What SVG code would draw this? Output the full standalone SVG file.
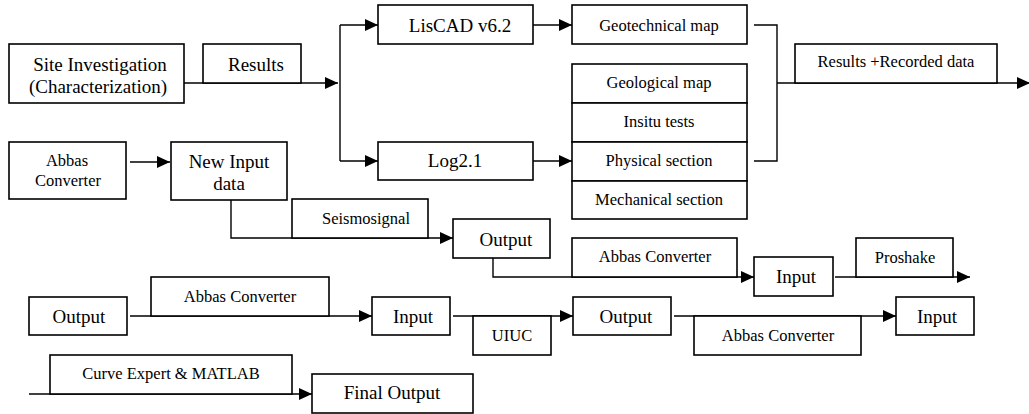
<svg xmlns="http://www.w3.org/2000/svg" width="1029" height="414" viewBox="0 0 1029 414">
<style>
rect{fill:#fff;stroke:#000;stroke-width:1.6}
.c path{fill:none;stroke:#000;stroke-width:1.4}
text{font-family:"Liberation Serif","Times New Roman",serif;fill:#000;text-anchor:middle}
.b{font-size:19px}
.s{font-size:16.5px}
</style>
<defs>
<marker id="ah" markerWidth="14" markerHeight="12" refX="13" refY="6" orient="auto" markerUnits="userSpaceOnUse"><path d="M0,0 L13,6 L0,12 z" fill="#000"/></marker>
</defs>
<g class="c" id="connectors">
<path d="M184,83 H338" marker-end="url(#ah)"/>
<path d="M340,25 V161"/>
<path d="M340,25 H378" marker-end="url(#ah)"/>
<path d="M340,161 H378" marker-end="url(#ah)"/>
<path d="M533,25 H572" marker-end="url(#ah)"/>
<path d="M533,161 H572" marker-end="url(#ah)"/>
<path d="M754,25 H777 V161 H754"/>
<path d="M777,83 H1030" marker-end="url(#ah)"/>
<path d="M130,162 H170" marker-end="url(#ah)"/>
<path d="M231,200 V238 H453" marker-end="url(#ah)"/>
<path d="M493,258 V277 H754" marker-end="url(#ah)"/>
<path d="M835,277 H970" marker-end="url(#ah)"/>
<path d="M130,316 H372" marker-end="url(#ah)"/>
<path d="M453,316 H573" marker-end="url(#ah)"/>
<path d="M674,316 H896" marker-end="url(#ah)"/>
<path d="M29,394 H312" marker-end="url(#ah)"/>
</g>
<g id="site"><rect x="9" y="44" width="175" height="59"/><text class="b" x="100" y="71">Site Investigation</text><text class="b" x="98" y="93">(Characterization)</text></g>
<g id="results"><rect x="203" y="44" width="98" height="39"/><text class="b" x="256" y="71">Results</text></g>
<g id="liscad"><rect x="378" y="5" width="155" height="39"/><text class="b" x="460" y="32">LisCAD v6.2</text></g>
<g id="log21"><rect x="378" y="142" width="155" height="38"/><text class="b" x="455" y="167">Log2.1</text></g>
<g id="geotech"><rect x="572" y="5" width="175" height="39"/><text class="s" x="659" y="31">Geotechnical map</text></g>
<g id="stack">
<rect x="572" y="64" width="175" height="39"/><text class="s" x="659" y="88">Geological map</text>
<rect x="572" y="103" width="175" height="39"/><text class="s" x="659" y="127">Insitu tests</text>
<rect x="572" y="142" width="175" height="39"/><text class="s" x="659" y="166">Physical section</text>
<rect x="572" y="181" width="175" height="38"/><text class="s" x="659" y="205">Mechanical section</text>
</g>
<g id="recorded"><rect x="795" y="44" width="202" height="39"/><text class="s" x="896" y="67">Results +Recorded data</text></g>
<g id="abbas1"><rect x="9" y="142" width="117" height="57"/><text class="s" x="67" y="166">Abbas</text><text class="s" x="68" y="186">Converter</text></g>
<g id="newinput"><rect x="171" y="142" width="116" height="58"/><text class="b" x="229" y="168">New Input</text><text class="b" x="229" y="190">data</text></g>
<g id="seismo"><rect x="292" y="199" width="136" height="39"/><text class="s" x="366" y="224">Seismosignal</text></g>
<g id="output1"><rect x="453" y="219" width="97" height="39"/><text class="b" x="506" y="246">Output</text></g>
<g id="abbas2"><rect x="572" y="238" width="165" height="39"/><text class="s" x="655" y="262">Abbas Converter</text></g>
<g id="input1"><rect x="754" y="257" width="79" height="39"/><text class="b" x="796" y="283">Input</text></g>
<g id="proshake"><rect x="856" y="238" width="97" height="39"/><text class="s" x="905" y="263">Proshake</text></g>
<g id="output2"><rect x="29" y="297" width="98" height="38"/><text class="b" x="79" y="323">Output</text></g>
<g id="abbas3"><rect x="151" y="277" width="178" height="39"/><text class="s" x="240" y="302">Abbas Converter</text></g>
<g id="input2"><rect x="372" y="297" width="78" height="38"/><text class="b" x="413" y="323">Input</text></g>
<g id="uiuc"><rect x="473" y="316" width="78" height="39"/><text class="s" x="512" y="341">UIUC</text></g>
<g id="output3"><rect x="573" y="297" width="98" height="38"/><text class="b" x="626" y="323">Output</text></g>
<g id="abbas4"><rect x="694" y="316" width="167" height="39"/><text class="s" x="778" y="341">Abbas Converter</text></g>
<g id="input3"><rect x="896" y="297" width="78" height="38"/><text class="b" x="937" y="323">Input</text></g>
<g id="curve"><rect x="50" y="355" width="242" height="39"/><text class="s" x="171" y="379">Curve Expert &amp; MATLAB</text></g>
<g id="final"><rect x="312" y="374" width="161" height="39"/><text class="b" x="392" y="399">Final Output</text></g>
</svg>
